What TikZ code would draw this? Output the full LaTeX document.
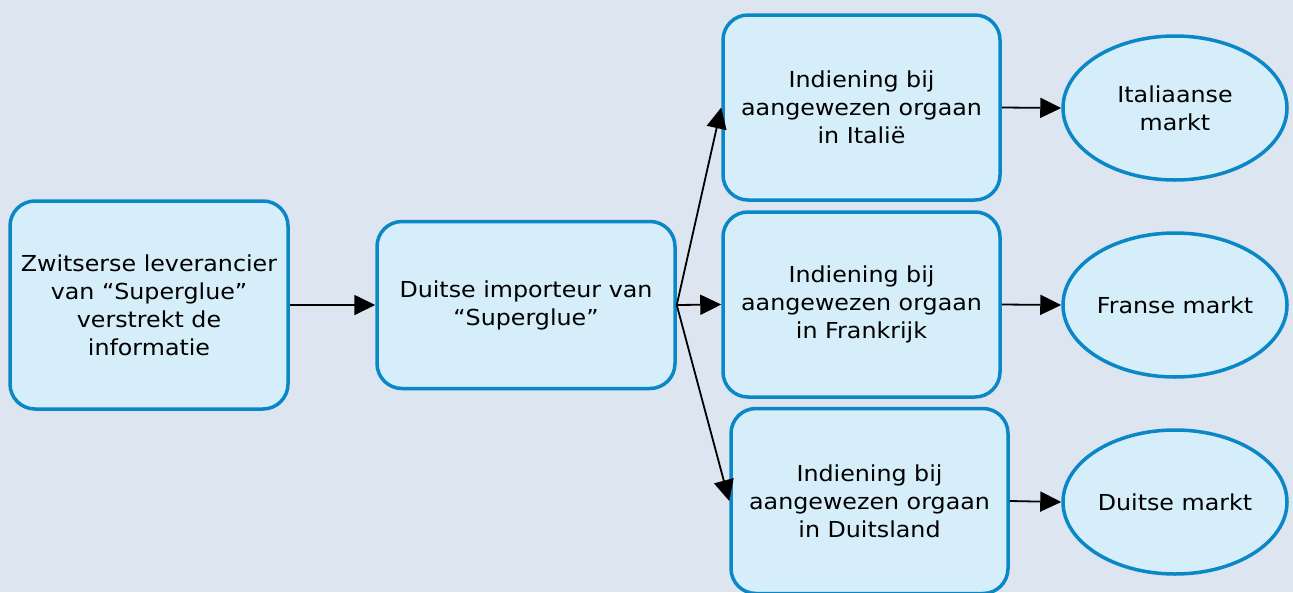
\documentclass[tikz,border=0pt]{standalone}
\usepackage{fontspec}
\setmainfont{DejaVu Sans}[FakeStretch=1.08]
\usetikzlibrary{shapes.geometric,arrows.meta}
\definecolor{bgcol}{HTML}{DCE5F0}
\definecolor{boxfill}{HTML}{D6EEFA}
\definecolor{boxline}{HTML}{0A87C6}
\begin{document}
\begin{tikzpicture}[x=1pt,y=-1pt,
  every node/.style={font=\fontsize{22}{28}\selectfont, align=center, text=black},
  stepbox/.style={draw=boxline, fill=boxfill, line width=3.5pt, rounded corners=25pt, inner sep=0pt},
  market/.style={ellipse, draw=boxline, fill=boxfill, line width=3.5pt, inner sep=0pt,
    minimum width=224pt, minimum height=144pt},
  flow/.style={-{Triangle[length=21pt,width=20pt]}, line width=1.8pt, black}]
  \fill[bgcol] (0,0) rectangle (1293,592);
  \useasboundingbox (0,0) rectangle (1293,592);

  % supplier and importer
  \node[stepbox, minimum width=278pt, minimum height=208pt] (sup) at (149,305)
    {Zwitserse leverancier\\van “Superglue”\\verstrekt de\\informatie};
  \node[stepbox, minimum width=298pt, minimum height=167pt] (imp) at (526,305)
    {Duitse importeur van\\“Superglue”};

  % notifications per country
  \node[stepbox, minimum width=277pt, minimum height=185pt] (it) at (861.5,107.5)
    {Indiening bij\\aangewezen orgaan\\in Italië};
  \node[stepbox, minimum width=277pt, minimum height=185pt] (fr) at (861.5,304.5)
    {Indiening bij\\aangewezen orgaan\\in Frankrijk};
  \node[stepbox, minimum width=277pt, minimum height=185pt] (de) at (869.5,501)
    {Indiening bij\\aangewezen orgaan\\in Duitsland};

  % markets
  \node[market] (mit) at (1175,108) {Italiaanse\\markt};
  \node[market] (mfr) at (1175,305) {Franse markt};
  \node[market] (mde) at (1175,502) {Duitse markt};

  % connectors
  \draw[flow] (sup.east) -- (imp.west);
  \draw[flow] (imp.east) -- (it.west);
  \draw[flow] (imp.east) -- (fr.west);
  \draw[flow] (imp.east) -- (de.west);
  \draw[flow] (it.east) -- (mit.west);
  \draw[flow] (fr.east) -- (mfr.west);
  \draw[flow] (de.east) -- (mde.west);
\end{tikzpicture}
\end{document}
